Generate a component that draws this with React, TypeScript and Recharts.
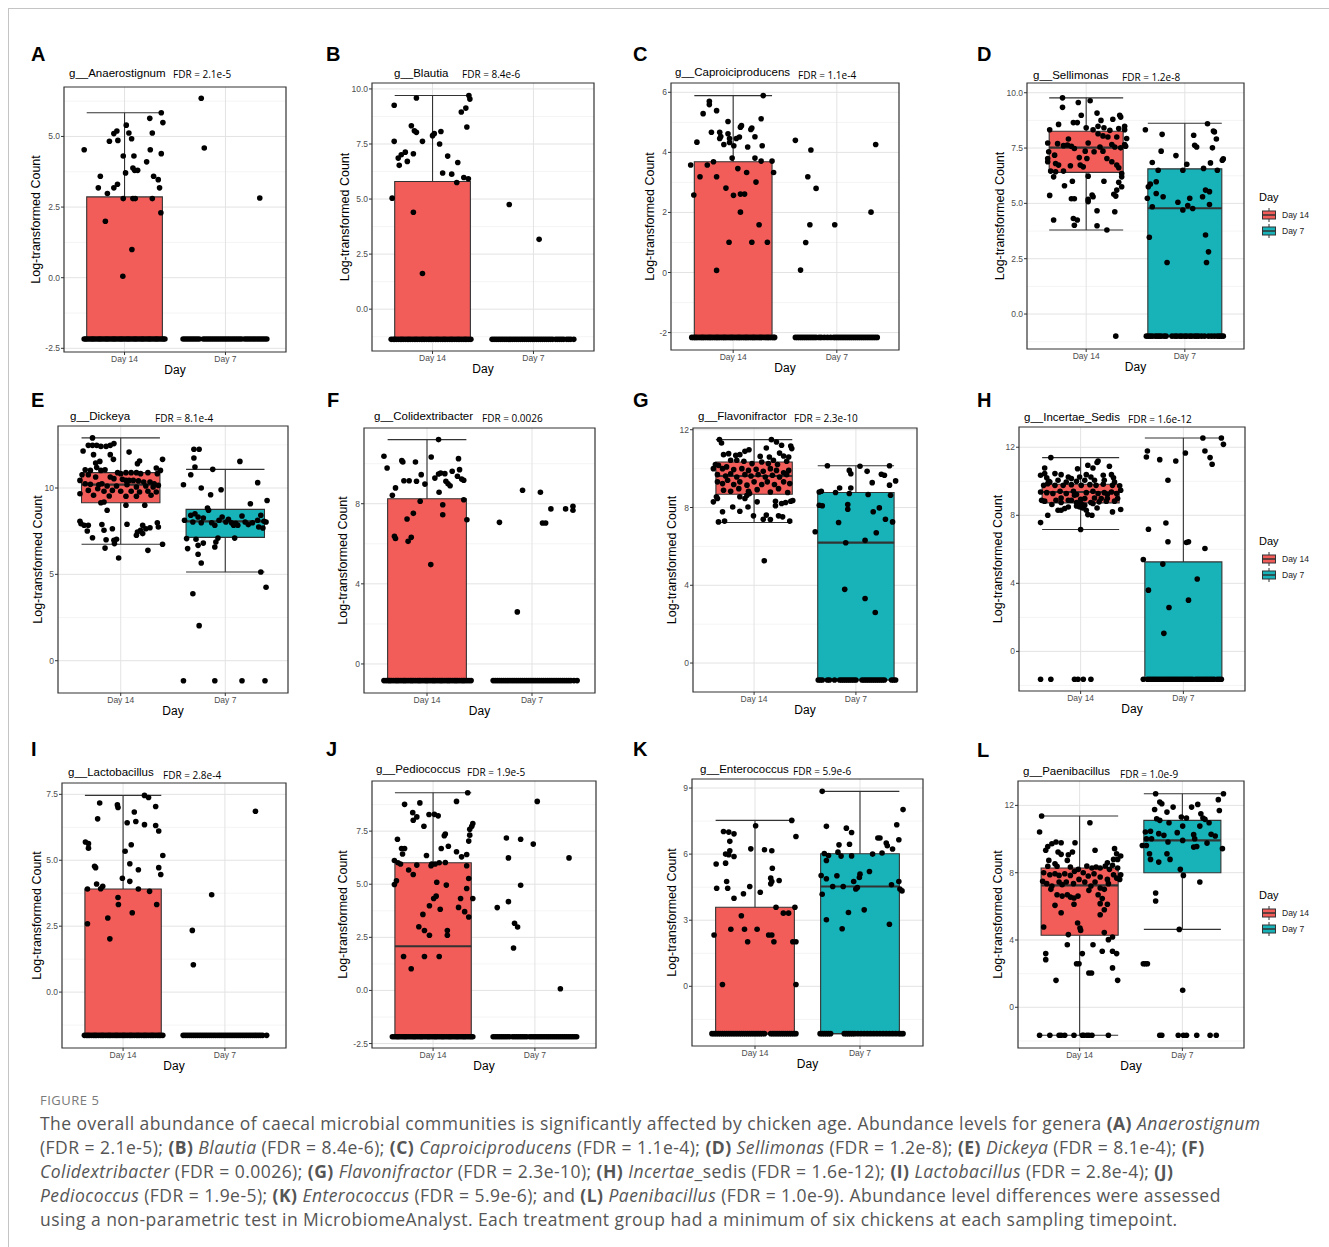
import React from "react";
import {
  ScatterChart,
  Scatter,
  XAxis,
  YAxis,
  CartesianGrid,
  ReferenceArea,
  ReferenceLine,
} from "recharts";

// ---------- data ----------
const DAYS = ["Day 14", "Day 7"];
type Stats = [number, number, number, number, number]; // lower, q1, median, q3, upper
type Pt = [number, number]; // jitter offset from group centre, value

// A  g__Anaerostignum
const aBox14: Stats = [-2.17, -2.17, -2.17, 2.86, 5.84];
const aBox7: Stats = [-2.17, -2.17, -2.17, -2.17, -2.17];
const aPts14: Pt[] = [
  [-0.4, 4.53], [-0.15, 4.83], [-0.106, 5.1], [-0.076, 5.19], [-0.066, 4.86], [0.017, 5.4],
  [0.043, 5.12], [0.07, 4.92], [0.25, 5.64], [0.275, 5.12], [0.364, 5.84], [0.38, 5.49],
  [-0.013, 4.31], [0.093, 4.31], [0.255, 4.53], [0.364, 4.39], [0.219, 4.1], [-0.24, 3.59],
  [0.01, 3.71], [0.083, 3.88], [0.1, 3.8], [0.13, 3.8], [0.288, 3.59], [0.334, 3.47],
  [-0.26, 3.18], [-0.106, 3.18], [-0.07, 3.31], [-0.17, 2.98], [0.347, 3.18], [-0.013, 2.8],
  [0.083, 2.8], [0.106, 2.8], [0.275, 2.8], [0.36, 2.3], [-0.19, 2.0], [0.073, 1.0], [-0.017, 0.05],
];
const aPts7: Pt[] = [[-0.24, 6.35], [-0.21, 4.59], [0.34, 2.82]];
const aRow14 = [-0.4, -0.385, -0.37, -0.35, -0.33, -0.315, -0.3, -0.28, -0.26, -0.245, -0.23, -0.21, -0.19, -0.175, -0.16, -0.14, -0.12, -0.105, -0.09, -0.07, -0.05, -0.035, -0.02, 0.0, 0.02, 0.035, 0.05, 0.07, 0.09, 0.105, 0.12, 0.14, 0.16, 0.175, 0.19, 0.21, 0.23, 0.245, 0.26, 0.28, 0.3, 0.315, 0.33, 0.35, 0.37, 0.385, 0.4];
const aRow7 = [-0.42, -0.4, -0.38, -0.36, -0.34, -0.32, -0.3, -0.28, -0.26, -0.22, -0.2, -0.18, -0.16, -0.14, -0.12, -0.1, -0.08, -0.06, -0.04, -0.02, 0.0, 0.02, 0.04, 0.06, 0.08, 0.1, 0.12, 0.14, 0.16, 0.19, 0.21, 0.23, 0.25, 0.27, 0.29, 0.31, 0.33, 0.35, 0.37, 0.39, 0.41];

// B  g__Blautia
const bBox14: Stats = [-1.37, -1.37, -1.37, 5.8, 9.7];
const bBox7: Stats = [-1.37, -1.37, -1.37, -1.37, -1.37];
const bPts14: Pt[] = [
  [-0.38, 9.26], [-0.16, 9.59], [0.36, 9.7], [0.37, 9.54], [0.33, 9.13], [0.285, 8.95], [0.34, 8.27],
  [-0.21, 8.33], [-0.18, 8.1], [-0.16, 8.03], [0.0, 7.88], [0.017, 7.97], [0.083, 8.07], [-0.38, 7.62],
  [-0.1, 7.62], [0.07, 7.5], [-0.27, 7.13], [-0.31, 7.01], [-0.34, 6.86], [-0.19, 7.06], [-0.25, 6.71],
  [-0.33, 6.53], [0.15, 6.95], [0.25, 6.66], [0.1, 6.18], [0.19, 6.13], [0.31, 5.98], [0.355, 5.92],
  [0.24, 5.75], [-0.4, 5.04], [-0.19, 4.4], [-0.1, 1.62],
];
const bPts7: Pt[] = [[-0.24, 4.75], [0.056, 3.17]];
const bRow14 = [-0.41, -0.39, -0.375, -0.36, -0.34, -0.32, -0.305, -0.29, -0.27, -0.25, -0.235, -0.22, -0.2, -0.18, -0.165, -0.15, -0.13, -0.11, -0.095, -0.08, -0.06, -0.04, -0.025, -0.01, 0.01, 0.03, 0.045, 0.06, 0.08, 0.1, 0.115, 0.13, 0.15, 0.17, 0.185, 0.2, 0.22, 0.24, 0.255, 0.27, 0.29, 0.31, 0.325, 0.34, 0.36, 0.38];
const bRow7 = [-0.41, -0.39, -0.37, -0.35, -0.33, -0.31, -0.29, -0.27, -0.25, -0.23, -0.21, -0.19, -0.17, -0.15, -0.13, -0.11, -0.09, -0.07, -0.05, -0.03, -0.01, 0.01, 0.03, 0.05, 0.07, 0.09, 0.11, 0.13, 0.15, 0.17, 0.19, 0.22, 0.24, 0.26, 0.28, 0.3, 0.33, 0.35, 0.37, 0.4];

// C  g__Caproiciproducens
const cBox14: Stats = [-2.16, -2.16, -2.16, 3.69, 5.89];
const cBox7: Stats = [-2.16, -2.16, -2.16, -2.16, -2.16];
const cPts14: Pt[] = [
  [0.29, 5.89], [-0.23, 5.7], [-0.23, 5.59], [-0.16, 5.39], [-0.29, 5.29], [0.27, 5.12], [-0.05, 5.03],
  [0.08, 4.89], [0.07, 4.84], [0.18, 4.81], [0.17, 4.76], [-0.21, 4.67], [-0.13, 4.67], [-0.05, 4.62],
  [-0.12, 4.53], [0.06, 4.51], [0.21, 4.52], [-0.13, 4.46], [0.03, 4.46], [-0.035, 4.46], [-0.35, 4.34],
  [-0.035, 4.33], [-0.09, 4.26], [0.006, 4.22], [0.28, 4.22], [0.14, 4.18], [-0.01, 3.81], [0.21, 3.81],
  [-0.19, 3.69], [0.27, 3.71], [0.375, 3.71], [-0.41, 3.58], [-0.25, 3.58], [0.045, 3.46], [0.39, 3.33],
  [0.13, 3.33], [-0.32, 3.19], [-0.16, 3.19], [0.22, 3.01], [-0.07, 2.81], [-0.38, 2.58], [0.003, 2.57],
  [0.07, 2.61], [0.11, 2.61], [0.07, 2.01], [0.25, 1.59], [-0.04, 1.01], [0.18, 1.01], [0.33, 1.01],
  [-0.16, 0.07],
];
const cPts7: Pt[] = [
  [-0.4, 4.4], [-0.25, 4.08], [0.375, 4.26], [-0.28, 3.19], [-0.2, 2.8], [0.33, 2.01], [-0.26, 1.59],
  [-0.02, 1.59], [-0.3, 1.0], [-0.35, 0.08],
];
const cRow14 = [-0.4, -0.38, -0.365, -0.35, -0.33, -0.31, -0.295, -0.28, -0.26, -0.24, -0.225, -0.21, -0.19, -0.17, -0.155, -0.14, -0.12, -0.1, -0.085, -0.07, -0.05, -0.03, -0.015, 0.0, 0.02, 0.04, 0.055, 0.07, 0.09, 0.11, 0.125, 0.14, 0.16, 0.18, 0.195, 0.21, 0.23, 0.25, 0.265, 0.28, 0.3, 0.32, 0.335, 0.35, 0.37, 0.39, 0.4];
const cRow7 = [-0.4, -0.38, -0.36, -0.34, -0.32, -0.3, -0.28, -0.26, -0.24, -0.22, -0.2, -0.17, -0.15, -0.12, -0.09, -0.06, -0.03, -0.01, 0.01, 0.03, 0.05, 0.07, 0.09, 0.11, 0.13, 0.15, 0.17, 0.19, 0.21, 0.23, 0.25, 0.27, 0.29, 0.31, 0.33, 0.35, 0.37, 0.39];

// D  g__Sellimonas
const dBox14: Stats = [3.8, 6.4, 7.52, 8.26, 9.77];
const dBox7: Stats = [-1.0, -1.0, 4.78, 6.56, 8.62];
const dPts14: Pt[] = [
  [-0.24, 9.77], [-0.08, 9.56], [0.04, 9.64], [-0.24, 9.34], [-0.05, 8.98], [0.11, 9.08], [0.34, 8.98],
  [0.35, 8.9], [0.27, 8.8], [-0.28, 8.57], [-0.13, 8.65], [-0.09, 8.65], [0.15, 8.75], [-0.37, 8.33],
  [0.0, 8.42], [0.07, 8.33], [0.12, 8.48], [0.18, 8.42], [0.24, 8.3], [0.33, 8.38], [0.39, 8.48],
  [0.39, 8.33], [0.12, 8.15], [0.17, 8.05], [0.22, 8.0], [0.31, 8.0], [0.41, 7.93], [-0.39, 7.73],
  [-0.18, 7.91], [-0.29, 7.7], [-0.23, 7.61], [-0.19, 7.64], [-0.15, 7.58], [-0.12, 7.48], [0.02, 7.73],
  [0.14, 7.55], [0.26, 7.66], [0.39, 7.66], [0.4, 7.58], [-0.38, 7.33], [-0.01, 7.36], [0.08, 7.33],
  [0.17, 7.36], [0.29, 7.55], [0.35, 7.51], [-0.39, 7.03], [-0.32, 7.18], [-0.07, 7.07], [0.007, 7.03],
  [0.21, 7.03], [0.26, 6.88], [-0.39, 6.88], [-0.31, 6.8], [-0.28, 6.73], [-0.16, 6.7], [-0.06, 6.73],
  [-0.03, 6.65], [0.31, 6.73], [0.33, 6.61], [-0.36, 6.46], [-0.31, 6.43], [-0.23, 6.46], [-0.33, 6.2],
  [0.02, 6.23], [0.36, 6.35], [0.36, 6.2], [-0.14, 6.0], [-0.22, 5.8], [0.18, 6.0], [0.33, 5.95],
  [0.36, 5.75], [0.31, 5.6], [-0.37, 5.36], [0.06, 5.38], [0.07, 5.3], [0.02, 5.18], [0.02, 5.08],
  [-0.12, 5.21], [-0.15, 5.21], [0.28, 5.41], [0.3, 5.33], [-0.33, 4.25], [-0.13, 4.32], [-0.09, 4.25],
  [0.11, 4.67], [0.29, 4.62], [-0.12, 4.01], [0.11, 3.99], [0.21, 3.8],
];
const dPts7: Pt[] = [
  [-0.4, 8.33], [-0.23, 8.12], [0.23, 8.6], [0.29, 8.27], [0.3, 8.23], [0.32, 7.91], [0.09, 8.08],
  [0.1, 7.63], [0.12, 7.55], [-0.09, 7.16], [0.28, 7.51], [-0.24, 7.36], [-0.33, 6.85], [0.02, 6.77],
  [-0.02, 6.5], [-0.27, 6.5], [0.19, 6.58], [0.26, 6.83], [0.38, 6.95], [0.39, 7.01], [0.33, 6.5],
  [-0.37, 5.75], [-0.35, 5.87], [-0.29, 5.98], [-0.38, 5.23], [-0.29, 5.45], [-0.22, 5.3], [-0.07, 5.05],
  [0.05, 5.23], [0.21, 5.6], [0.25, 5.53], [0.18, 5.3], [-0.33, 4.85], [-0.02, 4.7], [0.03, 4.9],
  [0.08, 4.77], [0.25, 4.95], [-0.36, 3.47], [0.21, 3.57], [-0.18, 2.33], [0.22, 2.33], [0.24, 2.81],
];
const dRow14 = [0.3];
const dRow7 = [-0.39, -0.37, -0.35, -0.33, -0.3, -0.28, -0.26, -0.24, -0.21, -0.19, -0.13, -0.1, -0.08, -0.05, -0.03, 0.0, 0.02, 0.05, 0.07, 0.1, 0.12, 0.14, 0.17, 0.2, 0.24, 0.27, 0.3, 0.33, 0.35, 0.37, 0.39];

// E  g__Dickeya
const eBox14: Stats = [6.74, 9.15, 10.19, 10.89, 12.9];
const eBox7: Stats = [5.14, 7.14, 8.07, 8.76, 11.08];
const ePts14: Pt[] = [
  [-0.27, 12.9], [-0.31, 12.47], [-0.27, 12.47], [-0.23, 12.47], [-0.19, 12.41], [-0.14, 12.41], [-0.1, 12.47],
  [-0.065, 12.57], [-0.36, 12.14], [-0.26, 11.93], [-0.1, 11.93], [0.08, 12.08], [-0.07, 11.66], [0.18, 11.56],
  [0.16, 11.41], [0.4, 11.66], [-0.2, 11.54], [-0.24, 11.45], [-0.23, 11.18], [0.34, 11.16], [0.38, 11.02],
  [-0.34, 11.06], [-0.29, 11.02], [-0.19, 11.02], [-0.15, 11.06], [-0.03, 10.89], [0.0, 10.83], [0.05, 10.89],
  [0.1, 10.89], [0.15, 10.89], [0.19, 10.83], [0.26, 10.89], [0.35, 10.83], [-0.37, 10.77], [-0.31, 10.77],
  [-0.24, 10.64], [-0.1, 10.64], [-0.065, 10.54], [0.016, 10.5], [0.05, 10.44], [0.08, 10.44], [0.12, 10.44],
  [0.17, 10.41], [0.22, 10.35], [0.28, 10.35], [0.32, 10.25], [-0.39, 10.44], [-0.34, 10.25], [-0.29, 10.21],
  [-0.21, 10.19], [-0.18, 10.25], [-0.13, 10.12], [-0.04, 10.12], [0.06, 10.19], [0.15, 10.06], [0.24, 10.12],
  [0.31, 10.06], [0.36, 10.15], [-0.31, 9.86], [-0.22, 9.96], [-0.16, 9.81], [-0.08, 9.86], [0.0, 9.81],
  [0.1, 9.81], [0.18, 9.77], [0.26, 9.81], [0.34, 9.77], [-0.39, 9.67], [-0.26, 9.58], [-0.11, 9.54],
  [0.05, 9.52], [0.15, 9.52], [0.29, 9.58], [-0.19, 9.15], [-0.16, 9.19], [0.05, 9.0], [0.23, 9.0],
  [-0.13, 8.71], [-0.39, 8.07], [-0.38, 7.93], [-0.35, 7.84], [-0.31, 7.84], [-0.18, 7.88], [0.06, 7.9],
  [-0.32, 7.51], [-0.16, 7.55], [-0.08, 7.64], [0.21, 7.84], [0.16, 7.45], [0.19, 7.55], [0.24, 7.64],
  [0.28, 7.7], [0.35, 7.99], [0.36, 7.74], [0.15, 7.26], [0.21, 7.36], [-0.27, 7.12], [-0.14, 7.0],
  [-0.065, 6.97], [-0.04, 7.03], [-0.06, 6.78], [-0.15, 6.52], [0.26, 6.39], [0.4, 6.74], [-0.02, 5.95],
];
const ePts7: Pt[] = [
  [-0.31, 3.88], [-0.25, 2.03], [0.39, 4.25], [0.34, 5.14], [-0.3, 12.24], [-0.25, 12.24], [-0.3, 11.74],
  [-0.29, 11.22], [-0.33, 10.77], [-0.4, 10.19], [-0.12, 11.08], [0.14, 11.54], [-0.23, 10.0], [-0.04, 9.9],
  [-0.14, 9.61], [0.31, 10.31], [0.24, 9.09], [0.4, 9.28], [-0.39, 8.13], [-0.33, 8.42], [-0.29, 8.51],
  [-0.26, 8.32], [-0.21, 8.26], [-0.16, 8.71], [-0.17, 8.84], [-0.31, 8.03], [-0.23, 7.99], [-0.13, 7.99],
  [-0.1, 7.84], [-0.06, 8.13], [-0.03, 8.32], [0.006, 8.03], [0.03, 8.19], [0.06, 7.99], [0.08, 7.84],
  [0.1, 7.95], [0.12, 7.84], [0.16, 8.38], [0.19, 8.03], [0.22, 7.88], [0.26, 7.99], [0.31, 8.13],
  [0.34, 8.42], [0.37, 8.07], [0.39, 8.03], [0.32, 7.74], [0.36, 7.68], [-0.37, 7.07], [-0.28, 7.03],
  [-0.36, 6.49], [-0.26, 6.68], [-0.21, 6.81], [-0.1, 6.58], [-0.09, 6.87], [-0.07, 7.1], [0.09, 7.1],
  [-0.26, 6.16], [-0.23, 5.66],
];
const eRow14: number[] = [];
const eRow7 = [-0.4, -0.1, 0.16, 0.38];

// F  g__Colidextribacter
const fBox14: Stats = [-0.83, -0.83, -0.83, 8.25, 11.2];
const fBox7: Stats = [-0.83, -0.83, -0.83, -0.83, -0.83];
const fPts14: Pt[] = [
  [0.11, 11.2], [-0.41, 10.37], [0.04, 10.33], [0.3, 10.25], [-0.24, 10.15], [-0.23, 10.08], [-0.11, 10.08],
  [-0.38, 9.78], [0.31, 9.7], [-0.055, 9.45], [0.11, 9.48], [0.13, 9.53], [0.17, 9.5], [0.24, 9.62],
  [0.29, 9.37], [0.075, 9.28], [-0.22, 9.15], [-0.17, 9.15], [-0.1, 9.12], [0.18, 9.12], [0.2, 9.0],
  [0.22, 8.9], [0.33, 9.23], [0.35, 9.17], [-0.02, 8.98], [-0.3, 8.79], [-0.33, 8.42], [0.115, 8.57],
  [-0.065, 8.12], [0.35, 8.2], [0.15, 7.95], [-0.13, 7.52], [0.15, 7.45], [-0.19, 7.24], [0.38, 7.2],
  [-0.31, 6.37], [-0.3, 6.26], [-0.15, 6.32], [-0.18, 6.12], [0.036, 4.96],
];
const fPts7: Pt[] = [
  [-0.31, 7.07], [-0.09, 8.67], [0.08, 8.57], [0.18, 7.74], [0.1, 7.04], [0.13, 7.04], [0.32, 7.74],
  [0.39, 7.87], [0.39, 7.67], [-0.14, 2.6],
];
const fRow14 = [-0.41, -0.39, -0.37, -0.355, -0.34, -0.32, -0.3, -0.285, -0.27, -0.25, -0.23, -0.215, -0.2, -0.18, -0.16, -0.145, -0.13, -0.11, -0.09, -0.075, -0.06, -0.04, -0.02, -0.005, 0.01, 0.03, 0.05, 0.065, 0.08, 0.1, 0.12, 0.135, 0.15, 0.17, 0.19, 0.205, 0.22, 0.24, 0.26, 0.275, 0.29, 0.31, 0.33, 0.345, 0.36, 0.38, 0.4, 0.42];
const fRow7 = [-0.37, -0.35, -0.33, -0.31, -0.29, -0.27, -0.25, -0.23, -0.21, -0.19, -0.17, -0.15, -0.13, -0.11, -0.09, -0.07, -0.05, -0.03, -0.01, 0.01, 0.03, 0.05, 0.07, 0.09, 0.11, 0.13, 0.15, 0.17, 0.19, 0.21, 0.23, 0.25, 0.27, 0.29, 0.31, 0.33, 0.35, 0.37, 0.4, 0.43];

// G  g__Flavonifractor
const gBox14: Stats = [7.23, 8.68, 9.62, 10.34, 11.49];
const gBox7: Stats = [-0.87, -0.87, 6.19, 8.77, 10.15];
const gPts14: Pt[] = [
  [-0.34, 11.49], [-0.32, 11.32], [0.17, 11.49], [0.22, 11.37], [0.12, 11.06], [0.36, 11.16], [0.37, 11.03],
  [0.27, 11.2], [-0.05, 10.97], [-0.09, 10.89], [-0.14, 10.72], [-0.18, 10.68], [-0.25, 10.77], [-0.3, 10.72],
  [0.06, 10.63], [0.15, 10.6], [0.25, 10.8], [0.29, 10.65], [0.34, 10.6], [-0.38, 10.21], [-0.35, 10.17],
  [-0.23, 10.43], [-0.17, 10.43], [-0.1, 10.38], [-0.02, 10.26], [0.075, 10.34], [0.14, 10.26], [0.19, 10.43],
  [0.23, 10.21], [0.32, 10.38], [-0.4, 10.0], [-0.31, 10.0], [-0.27, 10.09], [-0.2, 9.95], [-0.12, 10.0],
  [-0.055, 9.91], [0.02, 9.97], [0.09, 9.86], [0.16, 10.0], [0.22, 9.91], [0.29, 9.79], [0.34, 9.91],
  [-0.36, 9.69], [-0.28, 9.62], [-0.23, 9.74], [-0.17, 9.57], [-0.09, 9.69], [-0.03, 9.62], [0.04, 9.69],
  [0.11, 9.57], [0.18, 9.66], [0.25, 9.57], [0.32, 9.69], [-0.36, 9.32], [-0.31, 9.23], [-0.26, 9.4],
  [-0.2, 9.18], [-0.14, 9.32], [-0.07, 9.15], [0.0, 9.32], [0.075, 9.18], [0.13, 9.32], [0.2, 9.18],
  [0.29, 9.32], [0.35, 9.23], [-0.3, 8.89], [-0.23, 8.84], [-0.15, 8.97], [-0.055, 8.84], [0.03, 8.92],
  [0.16, 8.8], [0.24, 8.97], [0.33, 8.77], [-0.4, 8.29], [-0.36, 8.46], [-0.37, 8.55], [-0.14, 8.55],
  [-0.09, 8.46], [-0.07, 8.63], [-0.045, 8.72], [0.03, 8.29], [0.21, 8.32], [0.31, 8.26], [0.36, 8.32],
  [0.38, 8.36], [-0.31, 7.78], [-0.21, 8.03], [-0.14, 7.81], [-0.06, 8.03], [0.21, 8.09], [0.27, 8.21],
  [-0.35, 7.26], [-0.29, 7.3], [-0.006, 7.57], [0.09, 7.4], [0.12, 7.61], [0.16, 7.38], [0.24, 7.57],
  [0.28, 7.52], [0.35, 7.3], [0.1, 5.26],
];
const gPts7: Pt[] = [
  [-0.28, 10.15], [0.04, 10.12], [0.33, 10.15], [-0.065, 9.91], [-0.05, 9.74], [0.11, 9.86], [0.25, 9.71],
  [0.28, 9.66], [0.16, 9.28], [0.39, 9.37], [0.33, 9.15], [-0.16, 9.0], [-0.05, 9.0], [-0.36, 8.8],
  [-0.34, 8.84], [-0.2, 8.77], [-0.065, 8.72], [0.12, 8.67], [0.34, 8.63], [-0.36, 8.12], [-0.33, 8.09],
  [-0.08, 8.15], [-0.08, 7.91], [0.23, 7.98], [0.17, 7.78], [0.29, 7.4], [0.36, 7.26], [-0.17, 7.23],
  [-0.4, 6.75], [0.2, 6.7], [-0.1, 6.19], [0.09, 6.31], [-0.11, 3.79], [0.09, 3.32], [0.19, 2.6],
];
const gRow14: number[] = [];
const gRow7 = [-0.37, -0.35, -0.33, -0.28, -0.26, -0.21, -0.16, -0.14, -0.12, -0.1, -0.08, -0.06, -0.04, -0.02, 0.0, 0.06, 0.08, 0.1, 0.12, 0.14, 0.16, 0.18, 0.2, 0.22, 0.24, 0.26, 0.28, 0.35, 0.37, 0.39];

// H  g__Incertae_Sedis
const hBox14: Stats = [7.16, 8.73, 9.37, 9.82, 11.39];
const hBox7: Stats = [-1.64, -1.64, -1.64, 5.26, 12.54];
const hPts14: Pt[] = [
  [-0.29, 11.39], [0.0, 7.16], [-0.39, 7.57], [-0.32, 8.0], [0.07, 8.04], [0.11, 8.0], [0.16, 8.43],
  [0.055, 8.3], [0.31, 8.2], [0.39, 8.34], [-0.22, 8.3], [-0.19, 8.3], [-0.155, 8.4], [-0.12, 8.49],
  [-0.04, 8.55], [-0.01, 8.49], [0.02, 8.43], [0.12, 8.69], [0.18, 8.79], [0.25, 8.83], [0.33, 8.83],
  [-0.35, 8.83], [-0.38, 8.88], [-0.28, 8.63], [-0.24, 8.88], [-0.19, 8.75], [-0.09, 8.88], [0.04, 8.98],
  [0.1, 8.75], [0.26, 8.98], [0.36, 8.98], [-0.39, 9.37], [-0.33, 9.33], [-0.27, 9.28], [-0.2, 9.41],
  [-0.14, 9.28], [-0.07, 9.41], [-0.04, 9.22], [0.055, 9.33], [0.12, 9.41], [0.17, 9.28], [0.23, 9.33],
  [0.3, 9.37], [0.35, 9.28], [0.39, 9.47], [-0.36, 9.76], [-0.32, 9.86], [-0.31, 10.0], [-0.25, 9.76],
  [-0.17, 9.76], [-0.09, 9.8], [0.006, 9.76], [0.09, 9.8], [0.15, 9.76], [0.22, 9.82], [0.31, 9.76],
  [0.38, 9.73], [-0.39, 10.35], [-0.35, 10.45], [-0.33, 10.2], [-0.25, 10.45], [-0.19, 10.39], [-0.12, 10.25],
  [-0.09, 10.16], [-0.01, 10.25], [0.055, 10.39], [0.1, 10.25], [0.22, 10.35], [0.3, 10.39], [0.32, 10.2],
  [-0.35, 10.78], [-0.03, 10.74], [0.07, 10.94], [0.12, 10.78], [0.16, 11.1], [0.17, 11.19], [0.28, 10.88],
  [-0.3, 9.96], [-0.22, 10.06], [-0.14, 9.96], [-0.04, 10.0], [0.04, 10.06], [0.135, 10.06], [0.23, 10.06],
  [0.33, 9.96], [-0.19, 9.02], [-0.12, 8.88], [-0.06, 9.18], [0.0, 8.94], [0.135, 9.02], [0.2, 8.98],
  [0.26, 9.22], [-0.04, 8.75], [0.006, 8.69], [0.04, 8.59],
];
const hPts7: Pt[] = [
  [0.37, 12.54], [0.19, 12.54], [0.39, 12.17], [-0.35, 11.78], [-0.36, 11.43], [-0.23, 11.27], [-0.074, 11.19],
  [0.02, 11.66], [0.21, 11.78], [0.26, 11.39], [0.28, 11.0], [-0.15, 10.06], [-0.17, 7.55], [-0.34, 7.18],
  [-0.15, 6.44], [0.03, 6.4], [0.05, 6.44], [0.21, 6.05], [-0.39, 5.4], [-0.2, 5.13], [0.135, 4.25],
  [-0.34, 3.6], [-0.14, 2.58], [0.05, 3.01], [-0.19, 1.06],
];
const hRow14 = [-0.39, -0.29, -0.06, -0.026, 0.026, 0.1];
const hRow7 = [-0.39, -0.35, -0.33, -0.31, -0.29, -0.27, -0.25, -0.23, -0.21, -0.19, -0.17, -0.15, -0.13, -0.11, -0.09, -0.07, -0.05, -0.03, -0.01, 0.01, 0.03, 0.05, 0.07, 0.09, 0.12, 0.14, 0.16, 0.18, 0.2, 0.22, 0.24, 0.26, 0.28, 0.3, 0.33, 0.35, 0.37];

// I  g__Lactobacillus
const iBox14: Stats = [-1.64, -1.64, -1.64, 3.91, 7.46];
const iBox7: Stats = [-1.64, -1.64, -1.64, -1.64, -1.64];
const iPts14: Pt[] = [
  [0.21, 7.46], [0.25, 7.38], [-0.23, 7.17], [-0.056, 7.1], [-0.05, 7.0], [0.32, 7.04], [0.11, 6.83],
  [-0.25, 6.57], [0.04, 6.42], [0.125, 6.47], [0.21, 6.35], [0.32, 6.32], [0.35, 6.11], [-0.37, 5.69],
  [-0.34, 5.63], [-0.34, 5.46], [0.08, 5.59], [0.02, 5.34], [0.39, 5.18], [0.066, 4.87], [-0.28, 4.77],
  [-0.27, 4.72], [0.35, 4.72], [0.15, 4.64], [0.37, 4.46], [-0.007, 4.32], [0.066, 4.2], [-0.26, 4.1],
  [-0.2, 4.01], [-0.35, 3.91], [-0.22, 3.92], [0.15, 3.91], [0.26, 3.82], [-0.05, 3.59], [-0.046, 3.32],
  [0.33, 3.32], [0.09, 3.01], [-0.15, 2.81], [-0.35, 2.59], [-0.13, 2.02],
];
const iPts7: Pt[] = [[0.3, 6.86], [-0.13, 3.69], [-0.32, 2.34], [-0.31, 1.04]];
const iRow14 = [-0.38, -0.36, -0.345, -0.33, -0.31, -0.29, -0.275, -0.26, -0.24, -0.22, -0.205, -0.19, -0.17, -0.15, -0.135, -0.12, -0.1, -0.08, -0.065, -0.05, -0.03, -0.01, 0.005, 0.02, 0.04, 0.06, 0.075, 0.09, 0.11, 0.13, 0.145, 0.16, 0.18, 0.2, 0.215, 0.23, 0.25, 0.27, 0.285, 0.3, 0.32, 0.34, 0.355, 0.37, 0.39];
const iRow7 = [-0.41, -0.39, -0.37, -0.35, -0.33, -0.31, -0.29, -0.27, -0.25, -0.23, -0.21, -0.19, -0.17, -0.15, -0.13, -0.11, -0.09, -0.07, -0.05, -0.03, -0.01, 0.01, 0.03, 0.05, 0.07, 0.09, 0.11, 0.13, 0.15, 0.17, 0.19, 0.21, 0.23, 0.25, 0.27, 0.29, 0.31, 0.33, 0.35, 0.37, 0.41];

// J  g__Pediococcus
const jBox14: Stats = [-2.18, -2.18, 2.08, 6.01, 9.31];
const jBox7: Stats = [-2.18, -2.18, -2.18, -2.18, -2.18];
const jPts14: Pt[] = [
  [0.34, 9.31], [-0.28, 8.76], [-0.13, 8.83], [0.23, 8.9], [-0.2, 8.37], [-0.16, 8.17], [-0.195, 8.01],
  [-0.04, 8.28], [0.013, 8.29], [0.05, 8.22], [-0.09, 7.73], [0.39, 7.86], [0.38, 7.73], [0.36, 7.59],
  [0.36, 7.31], [0.35, 7.03], [0.12, 7.36], [0.11, 7.28], [-0.35, 7.12], [-0.31, 6.68], [-0.28, 6.68],
  [0.15, 6.79], [0.08, 6.68], [0.23, 6.53], [0.28, 6.29], [0.33, 6.4], [-0.3, 6.42], [-0.065, 6.35],
  [-0.38, 6.12], [-0.345, 6.01], [-0.32, 5.95], [-0.16, 5.9], [-0.02, 5.87], [-0.013, 5.95], [0.02, 5.95],
  [0.06, 6.01], [0.12, 6.02], [0.33, 5.87], [-0.24, 5.67], [-0.195, 5.46], [0.35, 5.27], [-0.36, 5.16],
  [-0.38, 4.99], [0.036, 5.09], [0.13, 4.96], [0.33, 4.8], [0.03, 4.44], [0.006, 4.33], [0.27, 4.33],
  [0.39, 4.33], [-0.036, 3.99], [0.25, 3.91], [0.31, 3.71], [0.07, 3.82], [0.35, 3.46], [-0.1, 3.58],
  [-0.14, 3.0], [-0.085, 2.82], [-0.036, 2.6], [0.14, 2.82], [0.14, 2.6], [-0.29, 1.6], [-0.085, 1.6],
  [0.06, 1.6], [-0.215, 1.02],
];
const jPts7: Pt[] = [
  [0.023, 8.9], [-0.28, 7.18], [-0.14, 7.12], [-0.016, 6.89], [-0.26, 6.24], [0.335, 6.24], [-0.37, 3.9],
  [-0.26, 4.18], [-0.14, 4.95], [-0.2, 3.16], [-0.17, 2.99], [-0.21, 2.0], [0.25, 0.08],
];
const jRow14 = [-0.4, -0.38, -0.36, -0.345, -0.33, -0.31, -0.29, -0.275, -0.26, -0.24, -0.22, -0.2, -0.185, -0.17, -0.15, -0.13, -0.115, -0.1, -0.08, -0.06, -0.045, -0.03, -0.01, 0.01, 0.025, 0.04, 0.06, 0.08, 0.095, 0.11, 0.13, 0.15, 0.165, 0.18, 0.2, 0.22, 0.235, 0.25, 0.27, 0.29, 0.305, 0.32, 0.34, 0.36, 0.375, 0.39];
const jRow7 = [-0.41, -0.39, -0.37, -0.35, -0.33, -0.31, -0.29, -0.27, -0.25, -0.22, -0.2, -0.18, -0.16, -0.14, -0.12, -0.1, -0.08, -0.05, -0.03, -0.01, 0.01, 0.03, 0.05, 0.07, 0.09, 0.11, 0.13, 0.15, 0.17, 0.19, 0.21, 0.23, 0.25, 0.27, 0.29, 0.31, 0.33, 0.35, 0.37, 0.39, 0.41];

// K  g__Enterococcus
const kBox14: Stats = [-2.15, -2.15, -2.15, 3.59, 7.53];
const kBox7: Stats = [-2.15, -2.15, 4.53, 6.02, 8.85];
const kPts14: Pt[] = [
  [0.35, 7.53], [0.006, 7.29], [-0.3, 7.03], [-0.25, 7.0], [-0.2, 6.92], [0.39, 6.8], [-0.24, 6.58],
  [-0.24, 6.15], [-0.04, 6.24], [0.09, 6.2], [0.16, 6.15], [-0.28, 6.0], [-0.25, 5.97], [-0.2, 5.89],
  [-0.28, 5.59], [-0.37, 5.55], [0.165, 5.36], [0.15, 4.91], [0.16, 4.76], [0.23, 4.8], [0.15, 4.65],
  [-0.27, 4.76], [-0.26, 4.45], [-0.365, 4.45], [-0.05, 4.53], [0.05, 4.27], [-0.11, 4.2], [-0.2, 4.0],
  [0.2, 3.59], [0.38, 3.59], [0.27, 3.32], [0.32, 3.32], [-0.13, 3.2], [-0.23, 2.59], [-0.1, 2.59],
  [0.02, 2.59], [0.13, 2.33], [0.16, 2.33], [-0.39, 2.33], [-0.07, 2.02], [0.18, 2.02], [0.36, 2.02],
  [0.39, 2.02], [-0.31, 0.08], [0.39, 0.08],
];
const kPts7: Pt[] = [
  [-0.36, 8.85], [0.41, 8.02], [-0.32, 7.26], [-0.13, 7.18], [-0.08, 6.98], [0.35, 7.33], [0.37, 6.65],
  [0.17, 6.73], [0.19, 6.73], [0.25, 6.5], [0.26, 6.38], [0.31, 6.23], [0.12, 6.0], [0.21, 6.05],
  [-0.34, 6.03], [-0.3, 5.94], [-0.21, 6.09], [-0.18, 5.91], [-0.08, 5.92], [-0.1, 6.45], [-0.2, 6.42],
  [-0.32, 5.71], [0.09, 5.21], [0.0, 5.09], [-0.006, 4.94], [-0.22, 5.02], [-0.37, 5.03], [-0.32, 4.88],
  [-0.26, 4.53], [-0.16, 4.53], [-0.06, 4.76], [-0.04, 4.42], [-0.025, 4.48], [-0.36, 4.18], [0.38, 4.42],
  [0.4, 4.33], [0.37, 4.76], [0.3, 4.61], [-0.32, 3.02], [-0.11, 3.35], [0.04, 3.47], [-0.17, 2.61],
  [0.28, 2.82],
];
const kRow14 = [-0.41, -0.39, -0.37, -0.35, -0.33, -0.31, -0.29, -0.27, -0.25, -0.23, -0.21, -0.19, -0.17, -0.15, -0.13, -0.11, -0.09, -0.07, -0.05, -0.03, -0.01, 0.01, 0.03, 0.05, 0.07, 0.09, 0.15, 0.17, 0.19, 0.21, 0.23, 0.25, 0.27, 0.29, 0.31, 0.33, 0.35, 0.37, 0.39];
const kRow7 = [-0.38, -0.36, -0.34, -0.32, -0.3, -0.28, -0.15, -0.13, -0.11, -0.09, -0.07, -0.05, -0.02, 0.01, 0.04, 0.07, 0.1, 0.13, 0.16, 0.19, 0.22, 0.25, 0.28, 0.31, 0.34, 0.37, 0.39, 0.41];

// L  g__Paenibacillus
const lBox14: Stats = [-1.66, 4.28, 7.25, 8.28, 11.37];
const lBox7: Stats = [4.63, 8.0, 9.92, 11.11, 12.69];
const lPts14: Pt[] = [
  [-0.37, 11.37], [-0.39, 10.42], [0.1, 10.97], [-0.18, 9.78], [-0.23, 9.82], [-0.27, 9.72], [-0.31, 9.56],
  [-0.33, 9.33], [-0.21, 9.23], [-0.18, 9.09], [-0.045, 9.78], [-0.07, 9.23], [-0.11, 9.07], [0.15, 9.33],
  [0.34, 9.43], [0.36, 9.13], [0.4, 8.99], [0.37, 8.79], [0.33, 8.79], [-0.3, 8.73], [-0.24, 8.53],
  [-0.22, 8.38], [-0.31, 8.38], [-0.12, 8.73], [-0.09, 8.34], [-0.013, 8.2], [0.07, 8.4], [0.12, 8.28],
  [0.16, 8.34], [0.2, 8.28], [0.25, 8.4], [0.29, 8.2], [0.27, 8.59], [0.32, 8.44], [0.37, 8.28],
  [0.4, 7.88], [0.36, 7.68], [0.39, 7.6], [0.33, 7.88], [-0.35, 8.0], [-0.29, 7.88], [-0.24, 7.94],
  [-0.2, 7.84], [-0.145, 7.94], [-0.09, 7.84], [-0.05, 8.08], [0.035, 8.0], [0.084, 7.8], [0.14, 7.94],
  [0.2, 7.74], [0.27, 7.6], [-0.36, 7.49], [-0.32, 7.35], [-0.27, 7.21], [-0.2, 7.45], [-0.17, 7.29],
  [-0.13, 7.45], [-0.06, 7.35], [-0.006, 7.6], [0.05, 7.45], [0.11, 7.21], [0.15, 7.45], [0.2, 7.09],
  [0.24, 7.01], [0.28, 7.35], [-0.28, 7.01], [-0.22, 6.69], [-0.17, 6.61], [-0.12, 6.69], [-0.09, 6.55],
  [-0.055, 6.5], [-0.016, 6.61], [0.09, 6.95], [0.18, 6.69], [0.22, 6.46], [-0.24, 6.06], [-0.055, 6.12],
  [0.2, 6.16], [0.27, 6.12], [0.24, 5.8], [-0.18, 5.62], [0.2, 5.5], [-0.02, 5.01], [0.003, 4.71],
  [0.01, 4.57], [-0.35, 4.77], [0.24, 4.44], [0.32, 4.18], [0.28, 4.02], [-0.11, 4.32], [-0.12, 3.72],
  [0.13, 3.72], [0.22, 3.33], [0.32, 3.33], [0.36, 3.19], [0.026, 3.19], [-0.33, 3.19], [-0.33, 2.83],
  [-0.03, 2.59], [-0.006, 2.59], [0.09, 2.04], [0.116, 2.04], [0.32, 2.34], [-0.23, 1.6], [0.37, 1.6],
];
const lPts7: Pt[] = [
  [-0.26, 12.69], [0.4, 12.69], [-0.22, 12.2], [-0.2, 12.1], [0.35, 12.34], [0.15, 12.06], [-0.09, 11.9],
  [0.09, 11.9], [-0.27, 11.76], [-0.15, 11.6], [-0.01, 11.31], [0.04, 11.25], [0.18, 11.5], [0.2, 11.25],
  [0.22, 11.17], [0.36, 11.7], [-0.25, 11.21], [-0.22, 11.11], [-0.13, 10.97], [0.003, 10.77], [0.17, 10.77],
  [0.26, 10.97], [-0.31, 10.46], [-0.36, 10.42], [-0.23, 10.32], [-0.18, 10.22], [-0.05, 10.38], [0.11, 10.26],
  [0.28, 10.28], [0.32, 10.18], [-0.35, 10.02], [-0.3, 10.02], [-0.39, 9.62], [-0.35, 9.62], [-0.14, 9.82],
  [0.003, 9.92], [0.12, 10.02], [0.24, 9.76], [0.11, 9.52], [0.14, 9.56], [0.39, 9.43], [-0.32, 9.13],
  [-0.15, 9.13], [-0.31, 8.79], [-0.23, 8.63], [-0.12, 8.79], [-0.02, 8.2], [0.01, 7.84], [0.17, 7.45],
  [-0.26, 6.79], [-0.26, 6.32], [-0.03, 4.63], [0.003, 1.01], [-0.38, 2.59], [-0.36, 2.59], [-0.34, 2.59],
];
const lRow14 = [-0.39, -0.29, -0.2, -0.18, -0.145, -0.055, 0.026, 0.04, 0.07, 0.09, 0.12, 0.28];
const lRow7 = [-0.22, -0.2, -0.04, 0.01, 0.04, 0.14, 0.27, 0.33];

// ---------- panel definitions ----------
interface PanelDef {
  letter: string;
  genus: string;
  fdr: string;
  domain: [number, number];
  ticks: number[];
  minor: number[];
  decimals: number;
  floor: number;
  box14: Stats;
  box7: Stats;
  pts14: Pt[];
  pts7: Pt[];
  row14: number[];
  row7: number[];
  legend: boolean;
}

const PANELS: PanelDef[] = [
  { letter: "A", genus: "g__Anaerostignum", fdr: "FDR = 2.1e-5", domain: [-2.63, 6.75], ticks: [-2.5, 0, 2.5, 5], minor: [-1.25, 1.25, 3.75, 6.25], decimals: 1, floor: -2.17, box14: aBox14, box7: aBox7, pts14: aPts14, pts7: aPts7, row14: aRow14, row7: aRow7, legend: false },
  { letter: "B", genus: "g__Blautia", fdr: "FDR = 8.4e-6", domain: [-1.9, 10.27], ticks: [0, 2.5, 5, 7.5, 10], minor: [-1.25, 1.25, 3.75, 6.25, 8.75], decimals: 1, floor: -1.37, box14: bBox14, box7: bBox7, pts14: bPts14, pts7: bPts7, row14: bRow14, row7: bRow7, legend: false },
  { letter: "C", genus: "g__Caproiciproducens", fdr: "FDR = 1.1e-4", domain: [-2.58, 6.31], ticks: [-2, 0, 2, 4, 6], minor: [-1, 1, 3, 5], decimals: 0, floor: -2.16, box14: cBox14, box7: cBox7, pts14: cPts14, pts7: cPts7, row14: cRow14, row7: cRow7, legend: false },
  { letter: "D", genus: "g__Sellimonas", fdr: "FDR = 1.2e-8", domain: [-1.58, 10.44], ticks: [0, 2.5, 5, 7.5, 10], minor: [-1.25, 1.25, 3.75, 6.25, 8.75], decimals: 1, floor: -1.0, box14: dBox14, box7: dBox7, pts14: dPts14, pts7: dPts7, row14: dRow14, row7: dRow7, legend: true },
  { letter: "E", genus: "g__Dickeya", fdr: "FDR = 8.1e-4", domain: [-1.87, 13.59], ticks: [0, 5, 10], minor: [2.5, 7.5, 12.5], decimals: 0, floor: -1.16, box14: eBox14, box7: eBox7, pts14: ePts14, pts7: ePts7, row14: eRow14, row7: eRow7, legend: false },
  { letter: "F", genus: "g__Colidextribacter", fdr: "FDR = 0.0026", domain: [-1.45, 11.78], ticks: [0, 4, 8], minor: [2, 6, 10], decimals: 0, floor: -0.83, box14: fBox14, box7: fBox7, pts14: fPts14, pts7: fPts7, row14: fRow14, row7: fRow7, legend: false },
  { letter: "G", genus: "g__Flavonifractor", fdr: "FDR = 2.3e-10", domain: [-1.49, 12.09], ticks: [0, 4, 8, 12], minor: [2, 6, 10], decimals: 0, floor: -0.87, box14: gBox14, box7: gBox7, pts14: gPts14, pts7: gPts7, row14: gRow14, row7: gRow7, legend: false },
  { letter: "H", genus: "g__Incertae_Sedis", fdr: "FDR = 1.6e-12", domain: [-2.33, 13.19], ticks: [0, 4, 8, 12], minor: [-2, 2, 6, 10], decimals: 0, floor: -1.64, box14: hBox14, box7: hBox7, pts14: hPts14, pts7: hPts7, row14: hRow14, row7: hRow7, legend: true },
  { letter: "I", genus: "g__Lactobacillus", fdr: "FDR = 2.8e-4", domain: [-2.12, 7.93], ticks: [0, 2.5, 5, 7.5], minor: [-1.25, 1.25, 3.75, 6.25], decimals: 1, floor: -1.64, box14: iBox14, box7: iBox7, pts14: iPts14, pts7: iPts7, row14: iRow14, row7: iRow7, legend: false },
  { letter: "J", genus: "g__Pediococcus", fdr: "FDR = 1.9e-5", domain: [-2.71, 9.86], ticks: [-2.5, 0, 2.5, 5, 7.5], minor: [-1.25, 1.25, 3.75, 6.25, 8.75], decimals: 1, floor: -2.18, box14: jBox14, box7: jBox7, pts14: jPts14, pts7: jPts7, row14: jRow14, row7: jRow7, legend: false },
  { letter: "K", genus: "g__Enterococcus", fdr: "FDR = 5.9e-6", domain: [-2.71, 9.41], ticks: [0, 3, 6, 9], minor: [-1.5, 1.5, 4.5, 7.5], decimals: 0, floor: -2.15, box14: kBox14, box7: kBox7, pts14: kPts14, pts7: kPts7, row14: kRow14, row7: kRow7, legend: false },
  { letter: "L", genus: "g__Paenibacillus", fdr: "FDR = 1.0e-9", domain: [-2.42, 13.45], ticks: [0, 4, 8, 12], minor: [-2, 2, 6, 10], decimals: 0, floor: -1.66, box14: lBox14, box7: lBox7, pts14: lPts14, pts7: lPts7, row14: lRow14, row7: lRow7, legend: true },
];

// ---------- layout (page pixels) ----------
// plot left/top/right/bottom, y-title distance, letter pos, title pos, fdr pos
const FRAMES = [
  { pl: 64, pt: 87, pr: 286, pb: 352, yt: 28, lx: 31, ly: 44, tx: 69, ty: 67, fx: 173, fy: 69 },
  { pl: 372, pt: 83, pr: 594, pb: 351, yt: 27, lx: 326, ly: 44, tx: 394, ty: 67, fx: 462, fy: 69 },
  { pl: 671, pt: 83, pr: 899, pb: 350, yt: 21, lx: 633, ly: 44, tx: 675, ty: 66, fx: 798, fy: 70 },
  { pl: 1027, pt: 83, pr: 1244, pb: 349, yt: 27, lx: 977, ly: 44, tx: 1033, ty: 69, fx: 1122, fy: 72 },
  { pl: 58, pt: 426, pr: 288, pb: 693, yt: 20, lx: 31, ly: 390, tx: 70, ty: 410, fx: 155, fy: 413 },
  { pl: 364, pt: 428, pr: 595, pb: 693, yt: 21, lx: 327, ly: 390, tx: 374, ty: 410, fx: 482, fy: 413 },
  { pl: 693, pt: 428, pr: 917, pb: 692, yt: 21, lx: 633, ly: 390, tx: 698, ty: 410, fx: 794, fy: 413 },
  { pl: 1019, pt: 427, pr: 1245, pb: 691, yt: 21, lx: 977, ly: 390, tx: 1024, ty: 411, fx: 1128, fy: 414 },
  { pl: 62, pt: 783, pr: 286, pb: 1048, yt: 25, lx: 31, ly: 739, tx: 68, ty: 766, fx: 163, fy: 770 },
  { pl: 372, pt: 781, pr: 596, pb: 1048, yt: 29, lx: 326, ly: 739, tx: 376, ty: 763, fx: 467, fy: 767 },
  { pl: 692, pt: 779, pr: 923, pb: 1046, yt: 20, lx: 633, ly: 739, tx: 700, ty: 763, fx: 793, fy: 766 },
  { pl: 1018, pt: 781, pr: 1244, pb: 1048, yt: 20, lx: 977, ly: 740, tx: 1023, ty: 765, fx: 1120, fy: 769 },
];

const RED = "#F25D5A";
const TEAL = "#17B3B9";
const INK = "#333333";
const FONT = "'Liberation Sans', Arial, sans-serif";
const NARROW = "'Liberation Sans Narrow', 'Open Sans', sans-serif";
const BOX_HALF = 0.375;

const dot = (p: any) => <circle cx={p.cx} cy={p.cy} r={2.8} fill="#000" />;

function boxParts(c: number, s: Stats, fill: string, key: string) {
  const [lo, q1, med, q3, hi] = s;
  const a = c - BOX_HALF;
  const b = c + BOX_HALF;
  const line = { stroke: INK, strokeWidth: 1.1, ifOverflow: "visible" as const };
  const out: React.ReactNode[] = [
    <ReferenceLine key={key + "wu"} segment={[{ x: c, y: q3 }, { x: c, y: hi }]} {...line} />,
    <ReferenceLine key={key + "wl"} segment={[{ x: c, y: lo }, { x: c, y: q1 }]} {...line} />,
    <ReferenceLine key={key + "cu"} segment={[{ x: a, y: hi }, { x: b, y: hi }]} {...line} />,
    <ReferenceLine key={key + "cl"} segment={[{ x: a, y: lo }, { x: b, y: lo }]} {...line} />,
  ];
  if (q3 > q1) {
    out.push(
      <ReferenceArea key={key + "box"} x1={a} x2={b} y1={q1} y2={q3} fill={fill} fillOpacity={1} stroke={INK} strokeWidth={1.1} ifOverflow="visible" />
    );
  }
  out.push(
    <ReferenceLine key={key + "med"} segment={[{ x: a, y: med }, { x: b, y: med }]} stroke={INK} strokeWidth={2.2} ifOverflow="visible" />
  );
  return out;
}

function LegendKey({ fill }: { fill: string }) {
  return (
    <svg width={14} height={14} style={{ display: "block" }}>
      <line x1={7} y1={0} x2={7} y2={14} stroke={INK} strokeWidth={1} />
      <rect x={0.5} y={3} width={13} height={8} fill={fill} stroke={INK} strokeWidth={1} />
      <line x1={0.5} y1={7} x2={13.5} y2={7} stroke={INK} strokeWidth={1.5} />
    </svg>
  );
}

function Panel({ d, f }: { d: PanelDef; f: (typeof FRAMES)[number] }) {
  const yw = f.yt * 2;
  const plotW = f.pr - f.pl;
  const plotH = f.pb - f.pt;
  const top = 8;
  const xh = 36;
  const width = yw + plotW + 12;
  const height = top + plotH + xh;

  const group = (c: number, pts: Pt[], row: number[]) => [
    ...row.map((dx) => ({ x: c + dx, y: d.floor })),
    ...pts.map(([dx, y]) => ({ x: c + dx, y })),
  ];
  const data14 = group(1, d.pts14, d.row14);
  const data7 = group(2, d.pts7, d.row7);

  return (
    <>
      <div style={{ position: "absolute", left: f.pl - yw, top: f.pt - top }}>
        <ScatterChart width={width} height={height} margin={{ top, right: 12, bottom: 0, left: 0 }}>
          <CartesianGrid horizontalValues={d.minor} vertical={false} stroke="#f1f1f1" strokeWidth={0.8} />
          <CartesianGrid horizontalValues={d.ticks} verticalValues={[1, 2]} stroke="#e3e3e3" strokeWidth={1} />
          <XAxis
            type="number"
            dataKey="x"
            domain={[0.4, 2.6]}
            ticks={[1, 2]}
            allowDataOverflow
            tickFormatter={(v: number) => DAYS[Math.round(v) - 1]}
            tick={{ fontSize: 8.5, fill: "#4d4d4d", fontFamily: FONT }}
            tickLine={{ stroke: INK }}
            tickSize={3}
            tickMargin={1}
            axisLine={false}
            height={xh}
            label={{ value: "Day", position: "center", fill: "#000", fontSize: 12, fontFamily: FONT }}
          />
          <YAxis
            type="number"
            dataKey="y"
            domain={d.domain}
            ticks={d.ticks}
            allowDataOverflow
            tickFormatter={(v: number) => v.toFixed(d.decimals)}
            tick={{ fontSize: 8.5, fill: "#4d4d4d", fontFamily: FONT }}
            tickLine={{ stroke: INK }}
            tickSize={3}
            tickMargin={1}
            axisLine={false}
            width={yw}
            label={{ value: "Log-transformed Count", angle: -90, position: "center", fill: "#000", fontSize: 12.5, fontFamily: FONT }}
          />
          {boxParts(1, d.box14, RED, "b14")}
          {boxParts(2, d.box7, TEAL, "b7")}
          <Scatter data={data14} shape={dot} isAnimationActive={false} />
          <Scatter data={data7} shape={dot} isAnimationActive={false} />
          <ReferenceArea x1={0.4} x2={2.6} y1={d.domain[0]} y2={d.domain[1]} fill="none" fillOpacity={0} stroke={INK} strokeWidth={1.2} ifOverflow="visible" />
        </ScatterChart>
      </div>
      <div style={{ position: "absolute", left: f.lx, top: f.ly, fontFamily: FONT, fontWeight: 700, fontSize: 20, lineHeight: "20px" }}>
        {d.letter}
      </div>
      <div style={{ position: "absolute", left: f.tx, top: f.ty, fontFamily: FONT, fontSize: 11.5, lineHeight: "13px", whiteSpace: "nowrap" }}>
        {d.genus}
      </div>
      <div style={{ position: "absolute", left: f.fx, top: f.fy, fontFamily: NARROW, fontSize: 10, lineHeight: "11px", whiteSpace: "nowrap" }}>
        {d.fdr}
      </div>
      {d.legend && (
        <div style={{ position: "absolute", left: 1259, top: f.pt + 108, fontFamily: FONT }}>
          <div style={{ fontSize: 11, lineHeight: "13px", marginBottom: 3 }}>Day</div>
          {DAYS.map((day, i) => (
            <div key={day} style={{ display: "flex", alignItems: "center", height: 16, marginLeft: 3 }}>
              <LegendKey fill={i === 0 ? RED : TEAL} />
              <span style={{ fontSize: 8.5, marginLeft: 6, color: "#222" }}>{day}</span>
            </div>
          ))}
        </div>
      )}
    </>
  );
}

const CAPTION_FONT = "'Open Sans', 'Noto Sans', sans-serif";

export default function App() {
  return (
    <div style={{ position: "absolute", left: 0, top: 0, width: 1329, height: 1247, background: "#fff", overflow: "hidden" }}>
      <div style={{ position: "absolute", left: 8, top: 8, width: 1321, height: 1239, borderTop: "1px solid #c4c4c4", borderLeft: "1px solid #c4c4c4" }} />
      {PANELS.map((d, i) => (
        <Panel key={d.letter} d={d} f={FRAMES[i]} />
      ))}
      <div style={{ position: "absolute", left: 40, top: 1091, fontFamily: CAPTION_FONT, fontSize: 13, color: "#7a7a7a", letterSpacing: 0.5 }}>
        FIGURE 5
      </div>
      <div style={{ position: "absolute", left: 40, top: 1111, fontFamily: CAPTION_FONT, fontSize: 17.5, lineHeight: "24px", letterSpacing: 0.45, color: "#555", whiteSpace: "nowrap" }}>
        The overall abundance of caecal microbial communities is significantly affected by chicken age. Abundance levels for genera <b>(A)</b> <i>Anaerostignum</i>
        <br />
        (FDR = 2.1e-5); <b>(B)</b> <i>Blautia</i> (FDR = 8.4e-6); <b>(C)</b> <i>Caproiciproducens</i> (FDR = 1.1e-4); <b>(D)</b> <i>Sellimonas</i> (FDR = 1.2e-8); <b>(E)</b> <i>Dickeya</i> (FDR = 8.1e-4); <b>(F)</b>
        <br />
        <i>Colidextribacter</i> (FDR = 0.0026); <b>(G)</b> <i>Flavonifractor</i> (FDR = 2.3e-10); <b>(H)</b> <i>Incertae</i>_sedis (FDR = 1.6e-12); <b>(I)</b> <i>Lactobacillus</i> (FDR = 2.8e-4); <b>(J)</b>
        <br />
        <i>Pediococcus</i> (FDR = 1.9e-5); <b>(K)</b> <i>Enterococcus</i> (FDR = 5.9e-6); and <b>(L)</b> <i>Paenibacillus</i> (FDR = 1.0e-9). Abundance level differences were assessed
        <br />
        using a non-parametric test in MicrobiomeAnalyst. Each treatment group had a minimum of six chickens at each sampling timepoint.
      </div>
    </div>
  );
}
